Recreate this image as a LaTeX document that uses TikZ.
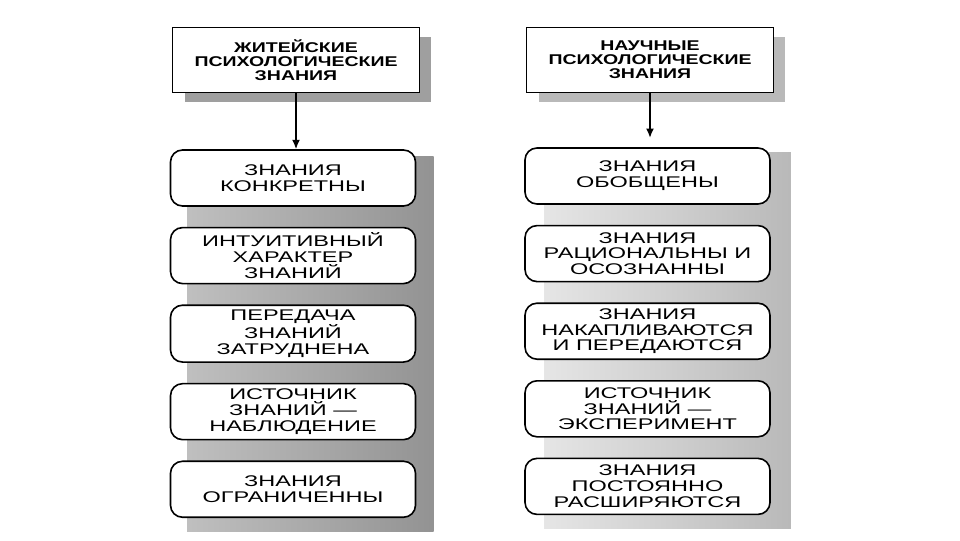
\documentclass[tikz,border=0pt]{standalone}
\usepackage{fontspec}
\newfontfamily\boxfont[FakeStretch=1.52]{Liberation Sans}
\newfontfamily\headfont[FakeStretch=1.38]{Liberation Sans}
\usetikzlibrary{arrows.meta,positioning,shadows,backgrounds,calc}

\begin{document}
\begin{tikzpicture}[x=0.75pt, y=0.75pt,
      head/.style={rectangle, draw, line width=1.2pt, fill=white,
        minimum width=185pt, minimum height=48.75pt, align=center,
        font={\headfont\bfseries\fontsize{10.6}{10.6}\selectfont},
        drop shadow={shadow xshift=9pt, shadow yshift=-7.5pt, opacity=1, fill=#1}},
      knw/.style={rectangle, draw, line width=1.2pt, rounded corners=9pt, fill=white,
        minimum width=183.75pt, minimum height=42pt, align=center,
        font={\boxfont\fontsize{11.6}{11.9}\selectfont}},
      arr/.style={line width=1.2pt, -{Latex[length=7pt, width=6pt]}},
      lpanel/.style={left color=gray!50, right color=gray!85},
      rpanel/.style={left color=gray!20, right color=gray!55},
      node distance=15pt
    ]
    \useasboundingbox (0,0) rectangle (960,540);

    % --- headers ---
    \node[head=gray!75] (lhead) at (296,480) {ЖИТЕЙСКИЕ\\ПСИХОЛОГИЧЕСКИЕ\\ЗНАНИЯ};
    \node[head=gray!55] (rhead) at (650,480) {НАУЧНЫЕ\\ПСИХОЛОГИЧЕСКИЕ\\ЗНАНИЯ};

    % --- left column ---
    \node[knw] (l1) at (293,362) {ЗНАНИЯ\\КОНКРЕТНЫ};
    \node[knw, below=of l1] (l2) {ИНТУИТИВНЫЙ\\ХАРАКТЕР\\ЗНАНИЙ};
    \node[knw, below=of l2] (l3) {ПЕРЕДАЧА\\ЗНАНИЙ\\ЗАТРУДНЕНА};
    \node[knw, below=of l3] (l4) {ИСТОЧНИК\\ЗНАНИЙ —\\НАБЛЮДЕНИЕ};
    \node[knw, below=of l4] (l5) {ЗНАНИЯ\\ОГРАНИЧЕННЫ};

    % --- right column ---
    \node[knw] (r1) at (647.5,364) {ЗНАНИЯ\\ОБОБЩЕНЫ};
    \node[knw, below=of r1] (r2) {ЗНАНИЯ\\РАЦИОНАЛЬНЫ И\\ОСОЗНАННЫ};
    \node[knw, below=of r2] (r3) {ЗНАНИЯ\\НАКАПЛИВАЮТСЯ\\И ПЕРЕДАЮТСЯ};
    \node[knw, below=of r3] (r4) {ИСТОЧНИК\\ЗНАНИЙ —\\ЭКСПЕРИМЕНТ};
    \node[knw, below=of r4] (r5) {ЗНАНИЯ\\ПОСТОЯННО\\РАСШИРЯЮТСЯ};

    \draw[arr] (lhead.south) -- (lhead.south |- l1.north);
    \draw[arr, shorten >=7pt] (rhead.south) -- (rhead.south |- r1.north);

    % gray panels behind the columns
    \begin{scope}[on background layer]
      \path[lpanel] ($(l1.north west)+(13pt,-5.25pt)$) rectangle ($(l5.south east)+(13pt,-9.75pt)$);
      \path[rpanel] ($(r1.north west)+(15pt,-3.75pt)$) rectangle ($(r5.south east)+(15pt,-9.75pt)$);
    \end{scope}
  \end{tikzpicture}
\end{document}
